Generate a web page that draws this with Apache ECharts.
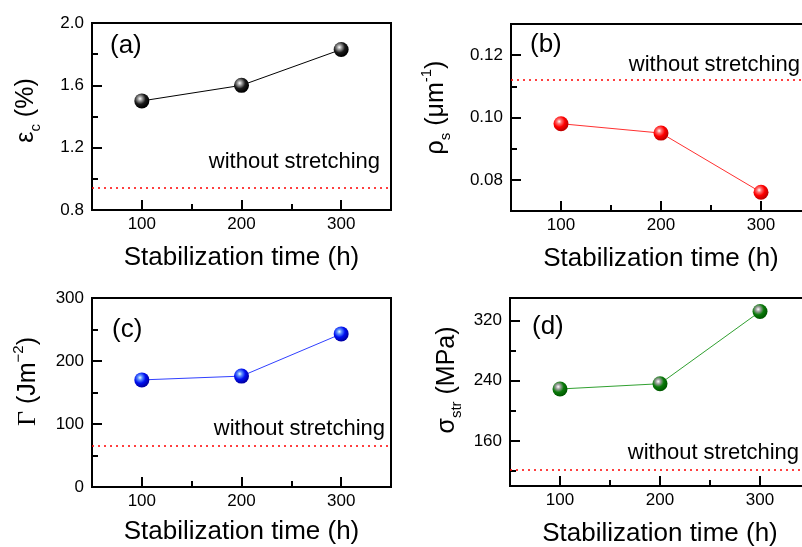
<!DOCTYPE html>
<html>
<head>
<meta charset="utf-8">
<script src="https://cdn.jsdelivr.net/npm/echarts@6/dist/echarts.min.js"></script>
<style>
html, body { margin: 0; padding: 0; background: #fff; }
#main { width: 802px; height: 547px; }
</style>
</head>
<body>
<div id="main"></div>
<script>
// data
var times = [100, 200, 300];
var strainC = [1.5, 1.6, 1.83];
var rhoS = [0.098, 0.095, 0.076];
var gammaE = [170, 176, 243];
var sigmaStr = [229, 236, 332];
// "without stretching" reference levels
var refStrain = 0.94;
var refRho = 0.112;
var refGamma = 65;
var refSigma = 122;

// ticks
var xMajor = [100, 200, 300];
var xMinor = [150, 250];
var aMajor = [0.8, 1.2, 1.6, 2.0];
var aMinor = [1.0, 1.4, 1.8];
var bMajor = [0.08, 0.10, 0.12];
var bMinor = [0.09, 0.11];
var cMajor = [0, 100, 200, 300];
var cMinor = [50, 150, 250];
var dMajor = [160, 240, 320];
var dMinor = [120, 200, 280];

var FONT = 'Liberation Sans, Arial, sans-serif';
var myChart = echarts.init(document.getElementById('main'));

function pairs(ys) {
	return times.map(function (t, i) { return [t, ys[i]]; });
}

function ball(c0, c1, c2, c3) {
	return {
		type: 'radial', x: 0.38, y: 0.35, r: 0.62,
		colorStops: [
			{ offset: 0, color: c0 },
			{ offset: 0.25, color: c1 },
			{ offset: 0.6, color: c2 },
			{ offset: 1, color: c3 }
		]
	};
}

var richName = {
	g: { fontSize: 25, lineHeight: 34, fontFamily: FONT, color: '#000' },
	gs: { fontSize: 26, lineHeight: 34, fontFamily: 'Liberation Serif, serif', color: '#000' },
	sub: { fontSize: 15, lineHeight: 15, verticalAlign: 'bottom', fontFamily: FONT, color: '#000' },
	sup: { fontSize: 15, lineHeight: 15, verticalAlign: 'top', fontFamily: FONT, color: '#000' }
};

// one panel = one grid, two x axes and two y axes (major + minor ticks)
var panels = [
	{
		grid: { left: 92, top: 23, width: 299, height: 187 },
		yMin: 0.8, yMax: 2.0, yMajor: aMajor, yMinor: aMinor, digits: 1,
		yName: '{g|ε}{sub|c}{g| (%)}', nameGap: 49, namePad: 12, xGap: 35,
		data: strainC, ref: refStrain, labelDist: [11, 15],
		line: '#000', colors: ['#ffffff', '#9a9a9a', '#1a1a1a', '#000000'],
		tag: '(a)', tagX: 110, tagY: 33
	},
	{
		grid: { left: 511, top: 24, width: 300, height: 187 },
		yMin: 0.07, yMax: 0.13, yMajor: bMajor, yMinor: bMinor, digits: 2,
		yName: '{g|ρ}{sub|s}{g| (μm}{sup|-1}{g|)}', nameGap: 58, namePad: 20, xGap: 35,
		data: rhoS, ref: refRho, labelDist: [11, 4],
		line: '#ff3030', colors: ['#ffffff', '#ff7070', '#ff0000', '#c00000'],
		tag: '(b)', tagX: 530, tagY: 32
	},
	{
		grid: { left: 92, top: 298, width: 299, height: 189 },
		yMin: 0, yMax: 300, yMajor: cMajor, yMinor: cMinor, digits: 0,
		yName: '{gs|Γ}{g| (Jm}{sup|−2}{g|)}', nameGap: 47, namePad: 22, xGap: 32,
		data: gammaE, ref: refGamma, labelDist: [6, 6],
		line: '#3040ff', colors: ['#e8ffff', '#5a8cff', '#0010f0', '#0000a8'],
		tag: '(c)', tagX: 112, tagY: 317
	},
	{
		grid: { left: 510, top: 298, width: 300, height: 188 },
		yMin: 100, yMax: 350, yMajor: dMajor, yMinor: dMinor, digits: 0,
		yName: '{g|σ}{sub|str}{g| (MPa)}', nameGap: 46, namePad: 24, xGap: 35,
		data: sigmaStr, ref: refSigma, labelDist: [11, 6],
		line: '#30a030', colors: ['#ffffff', '#a0a0a0', '#0a7a0a', '#005a00'],
		tag: '(d)', tagX: 532, tagY: 314
	}
];

var grids = [], xAxes = [], yAxes = [], series = [], graphics = [];

panels.forEach(function (p, i) {
	grids.push(Object.assign({
		show: true, borderColor: '#000', borderWidth: 2, backgroundColor: 'transparent',
		outerBoundsMode: 'none', containLabel: false
	}, p.grid));

	xAxes.push({
		type: 'value', gridIndex: i, position: 'bottom', min: 50, max: 350,
		name: 'Stabilization time (h)', nameLocation: 'middle', nameGap: p.xGap,
		nameTextStyle: { fontSize: 26, fontFamily: FONT, color: '#000' },
		axisLine: { lineStyle: { color: '#000', width: 2 } },
		axisTick: { inside: true, length: 10, lineStyle: { color: '#000', width: 2 }, customValues: xMajor },
		axisLabel: { margin: 6, fontSize: 17, fontFamily: FONT, color: '#000', customValues: xMajor },
		splitLine: { show: false }
	});
	// minor ticks only
	xAxes.push({
		type: 'value', gridIndex: i, position: 'bottom', min: 50, max: 350,
		axisLine: { show: false },
		axisTick: { inside: true, length: 6, lineStyle: { color: '#000', width: 2 }, customValues: xMinor },
		axisLabel: { show: false },
		splitLine: { show: false }
	});

	yAxes.push({
		type: 'value', gridIndex: i, position: 'left', min: p.yMin, max: p.yMax,
		name: p.yName, nameLocation: 'middle', nameGap: p.nameGap, nameRotate: 90,
		nameTextStyle: { rich: richName, padding: [0, 0, 0, p.namePad] },
		axisLine: { lineStyle: { color: '#000', width: 2 } },
		axisTick: { inside: true, length: 10, lineStyle: { color: '#000', width: 2 }, customValues: p.yMajor },
		axisLabel: {
			margin: 8, fontSize: 17, fontFamily: FONT, color: '#000', customValues: p.yMajor,
			formatter: (function (d) { return function (v) { return v.toFixed(d); }; })(p.digits)
		},
		splitLine: { show: false }
	});
	yAxes.push({
		type: 'value', gridIndex: i, position: 'left', min: p.yMin, max: p.yMax,
		axisLine: { show: false },
		axisTick: { inside: true, length: 6, lineStyle: { color: '#000', width: 2 }, customValues: p.yMinor },
		axisLabel: { show: false },
		splitLine: { show: false }
	});

	series.push({
		type: 'line', xAxisIndex: i * 2, yAxisIndex: i * 2,
		data: pairs(p.data),
		symbol: 'circle', symbolSize: 15,
		lineStyle: { color: p.line, width: 1 },
		itemStyle: { color: ball(p.colors[0], p.colors[1], p.colors[2], p.colors[3]) },
		z: 5,
		markLine: {
			silent: true, symbol: 'none', animation: false, precision: 4,
			lineStyle: { color: '#ff0000', type: [2, 4], width: 1.5 },
			label: {
				show: true, position: 'insideEndTop', formatter: 'without stretching',
				color: '#000', fontSize: 22, fontFamily: FONT, distance: p.labelDist
			},
			data: [{ yAxis: p.ref }]
		}
	});

	graphics.push({
		type: 'text', left: p.tagX, top: p.tagY,
		style: { text: p.tag, font: '26px ' + FONT, fill: '#000' }
	});
});

option = {
	animation: false,
	backgroundColor: '#fff',
	grid: grids,
	xAxis: xAxes,
	yAxis: yAxes,
	series: series,
	graphic: graphics
};

myChart.setOption(option);
</script>
</body>
</html>
